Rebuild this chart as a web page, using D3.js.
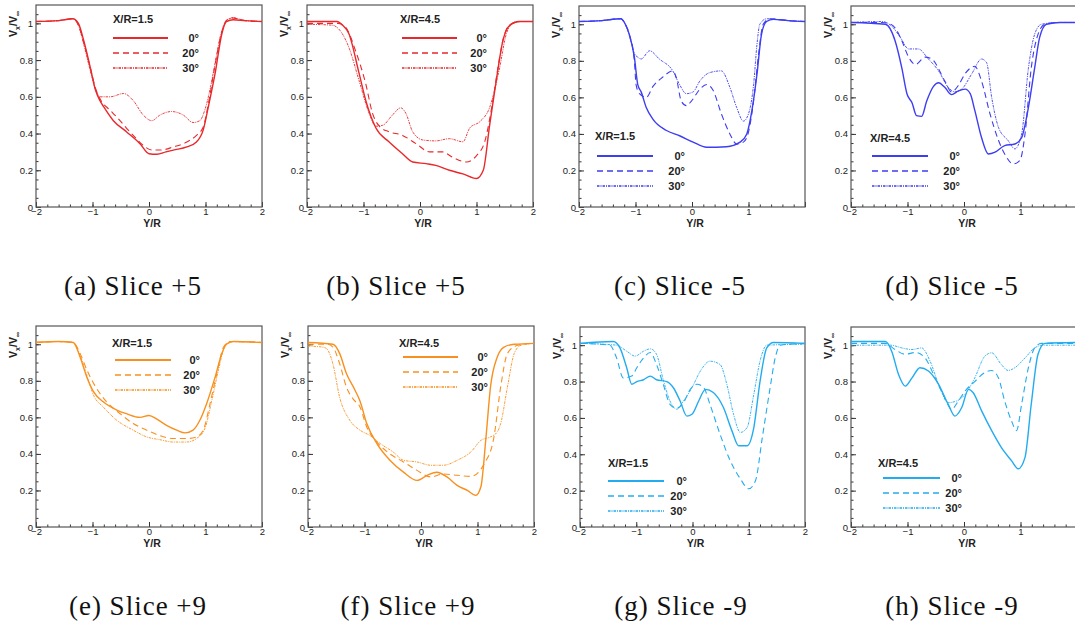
<!DOCTYPE html>
<html>
<head>
<meta charset="utf-8">
<script src="https://cdn.jsdelivr.net/npm/d3@7"></script>
<style>
  body { margin: 0; background: #fff; }
  text { font-family: "Liberation Sans", Arial, sans-serif; }
  .caption { font-family: "Liberation Serif", "DejaVu Serif", serif; }
</style>
</head>
<body>
<svg id="chart" width="1075" height="625"></svg>
<script>
// ---- data: [Y/R, Vx/Vinf] ----
// (a) slice +5, X/R=1.5
const a0 = [[-2,1.01],[-1.6,1.015],[-1.35,1.025],[-1.25,1.0],[-1.15,0.9],[-1.04,0.76],[-0.95,0.64],[-0.87,0.58],[-0.8,0.545],[-0.63,0.47],[-0.4,0.41],[-0.16,0.345],[0,0.29],[0.14,0.287],[0.3,0.3],[0.43,0.31],[0.67,0.327],[0.84,0.354],[0.96,0.42],[1.05,0.545],[1.17,0.727],[1.29,0.945],[1.37,1.01],[1.49,1.02],[1.7,1.015],[2,1.01]];
const a20 = [[-2,1.01],[-1.6,1.015],[-1.35,1.025],[-1.25,0.99],[-1.15,0.89],[-1.04,0.76],[-0.95,0.65],[-0.85,0.58],[-0.7,0.53],[-0.57,0.49],[-0.4,0.43],[-0.28,0.39],[-0.1,0.335],[0.05,0.31],[0.2,0.31],[0.43,0.327],[0.67,0.354],[0.84,0.39],[0.96,0.436],[1.05,0.56],[1.15,0.74],[1.27,0.93],[1.37,1.015],[1.47,1.03],[1.7,1.015],[2,1.01]];
const a30 = [[-2,1.01],[-1.6,1.015],[-1.35,1.025],[-1.25,0.99],[-1.15,0.88],[-1.02,0.72],[-0.92,0.62],[-0.85,0.6],[-0.69,0.6],[-0.45,0.618],[-0.28,0.58],[-0.1,0.5],[0.05,0.47],[0.19,0.5],[0.4,0.52],[0.61,0.5],[0.78,0.46],[0.9,0.47],[0.99,0.53],[1.08,0.64],[1.18,0.8],[1.28,0.95],[1.38,1.02],[1.5,1.03],[1.7,1.015],[2,1.01]];
// (b) slice +5, X/R=4.5
const b0 = [[-2,1.01],[-1.47,1.01],[-1.37,0.99],[-1.26,0.945],[-1.08,0.73],[-0.96,0.58],[-0.78,0.43],[-0.55,0.355],[-0.31,0.29],[-0.13,0.245],[0.11,0.236],[0.28,0.227],[0.52,0.2],[0.76,0.18],[1.0,0.155],[1.12,0.2],[1.23,0.44],[1.35,0.69],[1.47,0.91],[1.59,0.99],[1.75,1.01],[2,1.01]];
const b20 = [[-2,1.0],[-1.45,1.0],[-1.32,0.98],[-1.14,0.85],[-0.96,0.67],[-0.84,0.51],[-0.72,0.44],[-0.55,0.41],[-0.31,0.39],[-0.07,0.345],[0.17,0.3],[0.4,0.3],[0.58,0.27],[0.82,0.245],[1.0,0.28],[1.15,0.36],[1.29,0.58],[1.38,0.76],[1.47,0.91],[1.58,0.99],[1.75,1.01],[2,1.01]];
const b30 = [[-2,0.995],[-1.55,0.99],[-1.44,0.97],[-1.26,0.87],[-1.08,0.69],[-0.9,0.51],[-0.78,0.44],[-0.66,0.445],[-0.49,0.5],[-0.34,0.54],[-0.25,0.51],[-0.13,0.41],[0.05,0.365],[0.28,0.36],[0.52,0.372],[0.76,0.355],[0.88,0.43],[1.06,0.465],[1.23,0.54],[1.41,0.76],[1.53,0.945],[1.65,1.0],[1.8,1.01],[2,1.01]];
// (c) slice -5, X/R=1.5
const c0 = [[-2,1.015],[-1.6,1.02],[-1.26,1.03],[-1.18,1.0],[-1.11,0.945],[-1.02,0.82],[-0.96,0.67],[-0.9,0.63],[-0.81,0.545],[-0.69,0.48],[-0.46,0.42],[-0.22,0.39],[0.02,0.355],[0.26,0.327],[0.61,0.33],[0.85,0.355],[0.97,0.4],[1.06,0.527],[1.15,0.727],[1.23,0.945],[1.32,1.015],[1.44,1.027],[1.7,1.02],[2,1.015]];
const c20 = [[-2,1.015],[-1.6,1.02],[-1.26,1.03],[-1.18,1.0],[-1.11,0.945],[-1.02,0.8],[-0.99,0.67],[-0.93,0.62],[-0.81,0.6],[-0.69,0.66],[-0.52,0.71],[-0.34,0.745],[-0.28,0.71],[-0.19,0.58],[-0.1,0.555],[-0.01,0.58],[0.14,0.645],[0.26,0.67],[0.37,0.64],[0.52,0.51],[0.67,0.4],[0.79,0.345],[0.91,0.355],[1.0,0.41],[1.09,0.58],[1.18,0.84],[1.26,1.0],[1.38,1.03],[1.7,1.02],[2,1.015]];
const c30 = [[-2,1.015],[-1.6,1.02],[-1.26,1.03],[-1.18,1.0],[-1.1,0.93],[-1.02,0.84],[-0.96,0.82],[-0.9,0.81],[-0.75,0.855],[-0.58,0.81],[-0.34,0.745],[-0.22,0.67],[-0.1,0.62],[0.02,0.63],[0.14,0.69],[0.31,0.735],[0.52,0.745],[0.67,0.655],[0.79,0.545],[0.91,0.47],[1.0,0.51],[1.09,0.67],[1.15,0.89],[1.2,1.0],[1.32,1.03],[1.7,1.02],[2,1.015]];
// (d) slice -5, X/R=4.5
const d0 = [[-2,1.01],[-1.39,1.0],[-1.22,0.91],[-1.1,0.76],[-1.01,0.62],[-0.92,0.57],[-0.84,0.5],[-0.75,0.496],[-0.66,0.58],[-0.54,0.66],[-0.45,0.68],[-0.34,0.655],[-0.22,0.615],[-0.1,0.635],[0.02,0.645],[0.11,0.62],[0.19,0.53],[0.31,0.38],[0.43,0.29],[0.55,0.3],[0.72,0.336],[0.9,0.345],[1.02,0.38],[1.14,0.545],[1.25,0.76],[1.34,0.93],[1.46,1.0],[1.7,1.01],[2,1.01]];
const d20 = [[-2,1.01],[-1.45,1.01],[-1.3,1.0],[-1.22,0.98],[-1.1,0.91],[-0.98,0.82],[-0.86,0.78],[-0.69,0.82],[-0.57,0.81],[-0.34,0.69],[-0.22,0.63],[-0.1,0.665],[0.02,0.73],[0.19,0.77],[0.31,0.69],[0.46,0.51],[0.61,0.365],[0.72,0.29],[0.87,0.236],[0.99,0.255],[1.08,0.4],[1.19,0.76],[1.31,0.945],[1.43,1.0],[1.7,1.01],[2,1.01]];
const d30 = [[-2,1.01],[-1.45,1.015],[-1.28,0.99],[-1.13,0.93],[-0.98,0.865],[-0.81,0.865],[-0.63,0.81],[-0.45,0.745],[-0.28,0.655],[-0.16,0.63],[-0.04,0.645],[0.14,0.73],[0.31,0.81],[0.4,0.79],[0.49,0.6],[0.61,0.436],[0.78,0.364],[0.9,0.318],[1.02,0.4],[1.14,0.76],[1.25,0.945],[1.37,1.0],[1.7,1.01],[2,1.01]];
// (e) slice +9, X/R=1.5
const e0 = [[-2,1.01],[-1.6,1.015],[-1.34,1.01],[-1.22,0.93],[-1.1,0.82],[-0.98,0.74],[-0.81,0.685],[-0.57,0.64],[-0.4,0.62],[-0.16,0.6],[0,0.61],[0.14,0.59],[0.31,0.556],[0.49,0.53],[0.64,0.515],[0.78,0.53],[0.9,0.584],[1.02,0.675],[1.17,0.82],[1.29,0.95],[1.37,1.0],[1.49,1.015],[2,1.01]];
const e20 = [[-2,1.01],[-1.6,1.015],[-1.34,1.01],[-1.22,0.95],[-1.1,0.86],[-0.96,0.775],[-0.75,0.685],[-0.51,0.62],[-0.28,0.566],[-0.04,0.53],[0.19,0.5],[0.43,0.484],[0.67,0.484],[0.84,0.493],[0.96,0.53],[1.08,0.675],[1.2,0.84],[1.32,0.985],[1.43,1.015],[2,1.01]];
const e30 = [[-2,1.01],[-1.6,1.015],[-1.34,1.01],[-1.22,0.94],[-1.1,0.83],[-0.98,0.72],[-0.81,0.657],[-0.57,0.584],[-0.28,0.53],[-0.04,0.493],[0.19,0.478],[0.43,0.465],[0.67,0.465],[0.84,0.484],[0.99,0.54],[1.11,0.69],[1.23,0.86],[1.35,0.995],[1.45,1.015],[2,1.01]];
// (f) slice +9, X/R=4.5
const f0 = [[-2,1.01],[-1.56,1.0],[-1.44,0.95],[-1.32,0.84],[-1.17,0.75],[-1.08,0.69],[-0.96,0.566],[-0.78,0.456],[-0.55,0.365],[-0.31,0.3],[-0.07,0.255],[0.11,0.283],[0.28,0.3],[0.46,0.274],[0.64,0.228],[0.82,0.2],[0.97,0.173],[1.06,0.22],[1.15,0.49],[1.23,0.766],[1.35,0.93],[1.47,0.985],[1.65,1.0],[2,1.005]];
const f20 = [[-2,1.0],[-1.65,1.0],[-1.56,0.985],[-1.44,0.894],[-1.32,0.766],[-1.2,0.7],[-1.08,0.657],[-0.96,0.547],[-0.78,0.465],[-0.55,0.4],[-0.31,0.356],[-0.07,0.31],[0.17,0.274],[0.4,0.29],[0.64,0.283],[0.88,0.277],[1.12,0.347],[1.29,0.49],[1.41,0.766],[1.53,0.95],[1.71,0.995],[2,1.005]];
const f30 = [[-2,0.99],[-1.75,0.985],[-1.67,0.976],[-1.56,0.894],[-1.44,0.71],[-1.26,0.584],[-1.08,0.53],[-0.9,0.5],[-0.72,0.456],[-0.49,0.41],[-0.31,0.365],[-0.07,0.356],[0.17,0.338],[0.4,0.338],[0.64,0.365],[0.88,0.41],[1.06,0.474],[1.23,0.493],[1.35,0.52],[1.41,0.566],[1.53,0.766],[1.65,0.95],[1.77,0.995],[2,1.005]];
// (g) slice -9, X/R=1.5
const g0 = [[-2,1.01],[-1.41,1.02],[-1.29,0.985],[-1.17,0.876],[-1.08,0.785],[-0.99,0.8],[-0.87,0.81],[-0.75,0.83],[-0.64,0.81],[-0.46,0.8],[-0.34,0.766],[-0.22,0.693],[-0.1,0.61],[-0.01,0.62],[0.11,0.693],[0.23,0.757],[0.37,0.74],[0.55,0.657],[0.7,0.53],[0.82,0.447],[0.97,0.447],[1.09,0.547],[1.2,0.8],[1.32,0.985],[1.44,1.015],[2,1.01]];
const g20 = [[-2,1.01],[-1.47,1.0],[-1.35,0.93],[-1.23,0.82],[-1.08,0.83],[-0.99,0.876],[-0.87,0.93],[-0.75,0.96],[-0.64,0.894],[-0.52,0.785],[-0.4,0.675],[-0.28,0.653],[-0.16,0.684],[-0.04,0.757],[0.08,0.785],[0.2,0.766],[0.31,0.675],[0.49,0.51],[0.67,0.365],[0.85,0.265],[1.0,0.21],[1.12,0.255],[1.24,0.49],[1.38,0.766],[1.47,0.93],[1.56,1.0],[2,1.01]];
const g30 = [[-2,1.01],[-1.35,1.0],[-1.17,0.967],[-1.02,0.94],[-0.87,0.967],[-0.75,0.98],[-0.64,0.95],[-0.52,0.81],[-0.4,0.693],[-0.28,0.648],[-0.16,0.693],[-0.01,0.766],[0.14,0.858],[0.31,0.912],[0.49,0.894],[0.61,0.785],[0.73,0.62],[0.85,0.52],[0.97,0.547],[1.09,0.73],[1.2,0.912],[1.32,1.0],[2,1.005]];
// (h) slice -9, X/R=4.5
const h0 = [[-2,1.02],[-1.39,1.02],[-1.28,0.967],[-1.16,0.84],[-1.04,0.775],[-0.92,0.82],[-0.78,0.876],[-0.63,0.858],[-0.45,0.785],[-0.28,0.675],[-0.16,0.61],[-0.04,0.657],[0.08,0.757],[0.16,0.74],[0.31,0.64],[0.49,0.53],[0.66,0.438],[0.84,0.365],[0.96,0.32],[1.08,0.383],[1.19,0.675],[1.31,0.95],[1.43,1.01],[2,1.015]];
const h20 = [[-2,1.01],[-1.39,1.01],[-1.22,0.976],[-1.04,0.95],[-0.86,0.96],[-0.69,0.93],[-0.51,0.82],[-0.34,0.71],[-0.22,0.648],[-0.1,0.693],[0.02,0.748],[0.19,0.8],[0.37,0.85],[0.49,0.861],[0.61,0.82],[0.72,0.693],[0.84,0.584],[0.93,0.53],[1.02,0.675],[1.14,0.876],[1.25,0.985],[1.37,1.01],[2,1.01]];
const h30 = [[-2,1.0],[-1.3,1.0],[-1.1,0.985],[-0.92,0.976],[-0.75,0.985],[-0.6,0.912],[-0.45,0.785],[-0.28,0.684],[-0.13,0.693],[0.02,0.73],[0.19,0.82],[0.37,0.94],[0.49,0.958],[0.66,0.894],[0.78,0.861],[0.9,0.876],[1.08,0.93],[1.25,0.985],[1.4,1.0],[2,1.0]];

const captions = ["(a) Slice +5", "(b) Slice +5", "(c) Slice -5", "(d) Slice -5",
                  "(e) Slice +9", "(f) Slice +9", "(g) Slice -9", "(h) Slice -9"];
const xrLabels = ["X/R=1.5", "X/R=4.5", "X/R=1.5", "X/R=4.5", "X/R=1.5", "X/R=4.5", "X/R=1.5", "X/R=4.5"];
const angles = ["0°", "20°", "30°"];
const xTicks = [-2, -1, 0, 1, 2];
const yTicks = [0, 0.2, 0.4, 0.6, 0.8, 1];

// ---- layout ----
const RED = "#e8282b", BLUE = "#3d3df2", ORANGE = "#f8901f", SKY = "#22acef";

// box: [left, top, right, bottom]; leg: [titleX, titleY, lineX0, lineX1, firstLineY, labelRightX]
const panels = [
  { series: [a0, a20, a30], color: RED,    box: [36, 5, 262, 207],   leg: [113, 23, 113, 168, 38, 199],  cap: [133, 295] },
  { series: [b0, b20, b30], color: RED,    box: [307, 5, 533, 207],  leg: [400, 23, 402, 457, 38, 487],  cap: [396, 295] },
  { series: [c0, c20, c30], color: BLUE,   box: [579, 6, 805, 207],  leg: [595, 140, 597, 653, 156, 685], cap: [680, 295], hideLast: true },
  { series: [d0, d20, d30], color: BLUE,   box: [851, 6, 1077, 207], leg: [870, 142, 872, 928, 156, 960], cap: [952, 295], hideLast: true },
  { series: [e0, e20, e30], color: ORANGE, box: [36, 326, 262, 527], leg: [112, 347, 115, 171, 360, 200], cap: [138, 615] },
  { series: [f0, f20, f30], color: ORANGE, box: [308, 326, 534, 527], leg: [399, 347, 403, 458, 357, 488], cap: [408, 615] },
  { series: [g0, g20, g30], color: SKY,    box: [580, 327, 805, 527], leg: [608, 467, 608, 664, 481, 687], cap: [681, 615] },
  { series: [h0, h20, h30], color: SKY,    box: [851, 327, 1077, 527], leg: [878, 467, 883, 940, 478, 962], cap: [952, 615], hideLast: true }
];

const styles = [
  { w: 1.4, dash: null },
  { w: 1.1, dash: "6,4" },
  { w: 0.9, dash: "2.5,1,1,1" }
];

const svg = d3.select("#chart");

panels.forEach((p, i) => {
  const [x0, y0, x1, y1] = p.box;
  const x = d3.scaleLinear().domain([-2, 2]).range([x0, x1]);
  const y = d3.scaleLinear().domain([0, 1.1]).range([y1, y0]);
  const g = svg.append("g");

  // minor ticks
  g.append("g").attr("transform", `translate(0,${y1})`)
    .call(d3.axisTop(x).tickValues(d3.range(-2, 2.001, 0.2)).tickSize(2.5).tickFormat(""))
    .call(s => s.select(".domain").remove());
  g.append("g").attr("transform", `translate(${x0},0)`)
    .call(d3.axisRight(y).tickValues(d3.range(0, 1.1, 0.05)).tickSize(2.5).tickFormat(""))
    .call(s => s.select(".domain").remove());

  // major ticks + labels
  const xa = g.append("g").attr("transform", `translate(0,${y1})`)
    .call(d3.axisBottom(x).tickValues(xTicks).tickSizeInner(-5).tickSizeOuter(0).tickPadding(1).tickFormat(d3.format("d")));
  xa.select(".domain").remove();
  xa.selectAll("text").attr("font-size", 9.5).attr("fill", "#222").attr("dy", "0.7em");
  if (p.hideLast) xa.selectAll("text").filter(d => d === 2).remove();

  const ya = g.append("g").attr("transform", `translate(${x0},0)`)
    .call(d3.axisLeft(y).tickValues(yTicks).tickSizeInner(-5).tickSizeOuter(0).tickPadding(3).tickFormat(d => d === 0 || d === 1 ? d : d.toFixed(1)));
  ya.select(".domain").remove();
  ya.selectAll("text").attr("font-size", 9.5).attr("fill", "#222");
  g.selectAll(".tick line").attr("stroke", "#333");

  // frame
  g.append("rect").attr("x", x0).attr("y", y0).attr("width", x1 - x0).attr("height", y1 - y0)
    .attr("fill", "none").attr("stroke", "#555").attr("stroke-width", 1.2);

  // curves
  const line = d3.line().x(d => x(d[0])).y(d => y(d[1])).curve(d3.curveMonotoneX);
  p.series.forEach((s, k) => {
    g.append("path").datum(s).attr("d", line)
      .attr("fill", "none").attr("stroke", p.color)
      .attr("stroke-width", styles[k].w)
      .attr("stroke-dasharray", styles[k].dash);
  });

  // axis titles
  g.append("text").attr("x", (x0 + x1) / 2 + 3).attr("y", y1 + 20)
    .attr("text-anchor", "middle").attr("font-size", 10.5).attr("font-weight", "bold").attr("fill", "#222")
    .text("Y/R");
  const yl = g.append("text").attr("transform", `translate(${x0 - 19},${y0 + 19}) rotate(-90)`)
    .attr("text-anchor", "middle").attr("font-size", 10.5).attr("font-weight", "bold").attr("fill", "#222");
  yl.append("tspan").text("V");
  yl.append("tspan").attr("font-size", 7).attr("dy", 3).text("x");
  yl.append("tspan").attr("dy", -3).text("/V");
  yl.append("tspan").attr("font-size", 7).attr("dy", 3).text("∞");

  // legend
  const [tx, ty, lx0, lx1, ly, lr] = p.leg;
  g.append("text").attr("x", tx).attr("y", ty).attr("font-size", 11).attr("font-weight", "bold")
    .attr("fill", "#222").text(xrLabels[i]);
  angles.forEach((a, k) => {
    const yy = ly + k * 15;
    g.append("line").attr("x1", lx0).attr("x2", lx1).attr("y1", yy).attr("y2", yy)
      .attr("stroke", p.color).attr("stroke-width", styles[k].w + 0.4)
      .attr("stroke-dasharray", styles[k].dash);
    g.append("text").attr("x", lr).attr("y", yy + 4).attr("text-anchor", "end")
      .attr("font-size", 11).attr("font-weight", "bold").attr("fill", "#222").text(a);
  });

  // caption
  svg.append("text").attr("class", "caption").attr("x", p.cap[0]).attr("y", p.cap[1])
    .attr("text-anchor", "middle").attr("font-size", 27).attr("letter-spacing", 1).attr("fill", "#111").text(captions[i]);
});
</script>
</body>
</html>
